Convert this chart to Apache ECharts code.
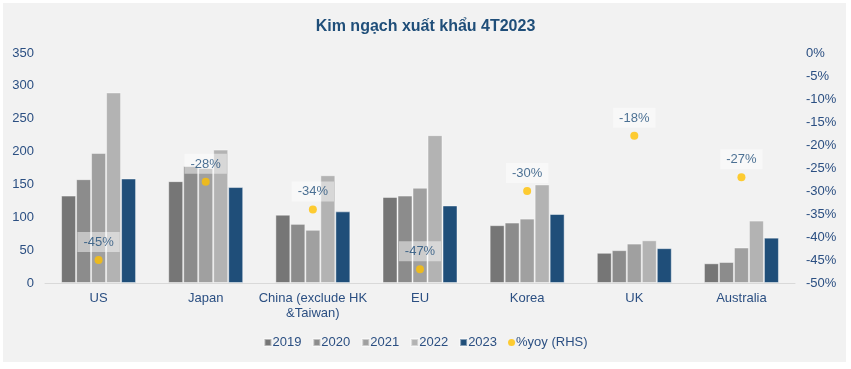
<!DOCTYPE html>
<html>
<head>
<meta charset="utf-8">
<script src="https://cdn.jsdelivr.net/npm/echarts@6/dist/echarts.min.js"></script>
<style>
html,body{margin:0;padding:0;background:#fff;}
#c{width:851px;height:369px;}
</style>
</head>
<body>
<div id="c"></div>
<script>
const categories = ['US', 'Japan', 'China (exclude HK\n&Taiwan)', 'EU', 'Korea', 'UK', 'Australia'];
const v2019 = [133, 155, 104, 131, 88, 46, 30];
const v2020 = [158, 178, 90, 133, 92, 50, 32];
const v2021 = [198, 175, 81, 145, 98, 60, 54];
const v2022 = [290, 203, 164, 225, 150, 65, 95];
const v2023 = [159, 146, 109, 118, 105, 53, 69];
const yoy = [-45, -28, -34, -47, -30, -18, -27];
const leftTicks = { min: 0, max: 350, interval: 50 };
const rightTicks = { min: -50, max: 0, interval: 5 };

const textColor = '#2B4F82';
const font = 'Liberation Sans, Arial, sans-serif';
const chart = echarts.init(document.getElementById('c'), null, { renderer: 'canvas' });

function barSeries(name, data, color) {
  return {
    name, type: 'bar', data, barWidth: 15, barGap: '0%',
    itemStyle: { color, borderColor: 'rgba(255,255,255,0.45)', borderWidth: 1 },
    z: 2
  };
}

chart.setOption({
  backgroundColor: '#ffffff',
  animation: false,
  textStyle: { fontFamily: font },
  graphic: [{
    type: 'rect', z: -10, silent: true,
    shape: { x: 3, y: 3, width: 843, height: 359 },
    style: { fill: '#F2F2F2' }
  }],
  title: {
    text: 'Kim ngạch xuất khẩu 4T2023',
    left: 'center', top: 14,
    textStyle: { color: '#1F4E79', fontSize: 16, fontWeight: 'bold', fontFamily: font }
  },
  legend: {
    bottom: 15, left: 'center',
    itemWidth: 7, itemHeight: 7, itemGap: 11,
    textStyle: { color: textColor, fontSize: 13, fontFamily: font, padding: [0, 0, 0, -4] },
    data: [
      { name: '2019', icon: 'rect' }, { name: '2020', icon: 'rect' }, { name: '2021', icon: 'rect' },
      { name: '2022', icon: 'rect' }, { name: '2023', icon: 'rect' }, { name: '%yoy (RHS)', icon: 'circle' }
    ]
  },
  grid: { left: 45, right: 56, top: 53, bottom: 86, containLabel: false },
  xAxis: {
    type: 'category', data: categories,
    axisLine: { lineStyle: { color: '#D9D9D9', width: 1 } },
    axisTick: { show: false },
    axisLabel: { color: textColor, fontSize: 13, margin: 8, lineHeight: 15, fontFamily: font, interval: 0 }
  },
  yAxis: [{
    type: 'value', min: leftTicks.min, max: leftTicks.max, interval: leftTicks.interval,
    splitLine: { show: false }, axisLine: { show: false }, axisTick: { show: false },
    axisLabel: { color: textColor, fontSize: 13, margin: 11, fontFamily: font }
  }, {
    type: 'value', min: rightTicks.min, max: rightTicks.max, interval: rightTicks.interval,
    position: 'right',
    splitLine: { show: false }, axisLine: { show: false }, axisTick: { show: false },
    axisLabel: { color: textColor, fontSize: 13, margin: 11, fontFamily: font, formatter: '{value}%' }
  }],
  series: [
    barSeries('2019', v2019, '#767676'),
    barSeries('2020', v2020, '#8C8C8C'),
    barSeries('2021', v2021, '#A0A0A0'),
    barSeries('2022', v2022, '#B3B3B3'),
    barSeries('2023', v2023, '#1F4E79'),
    {
      name: '%yoy (RHS)', type: 'scatter', yAxisIndex: 1, data: yoy,
      symbol: 'circle', symbolSize: 8, z: 5,
      itemStyle: { color: '#FFC000' },
      label: {
        show: true, position: 'top', distance: 4,
        formatter: p => p.value + '%',
        color: '#1F4E79', fontSize: 13, fontFamily: font,
        backgroundColor: 'rgba(255,255,255,0.6)', padding: [4, 6, 3, 6]
      }
    }
  ]
});
</script>
</body>
</html>
